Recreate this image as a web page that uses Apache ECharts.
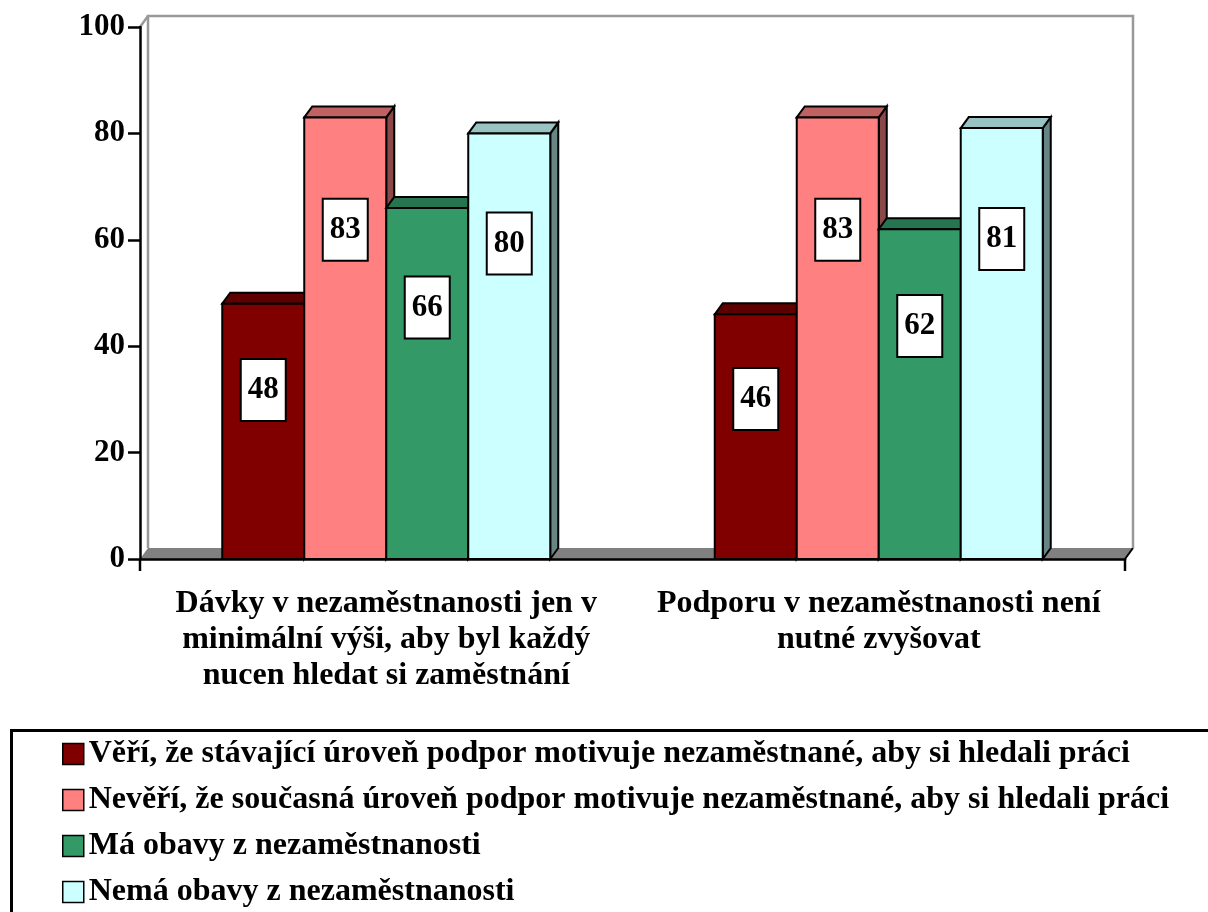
<!DOCTYPE html>
<html>
<head>
<meta charset="utf-8">
<script src="https://cdn.jsdelivr.net/npm/echarts@6/dist/echarts.min.js"></script>
<style>html,body{margin:0;padding:0;background:#fff;}#c{width:1208px;height:912px;}</style>
</head>
<body>
<div id="c"></div>
<script>
const categories = [
  "Dávky v nezaměstnanosti jen v\nminimální výši, aby byl každý\nnucen hledat si zaměstnání",
  "Podporu v nezaměstnanosti není\nnutné zvyšovat"
];
const seriesNames = [
  "Věří, že stávající úroveň podpor motivuje nezaměstnané, aby si hledali práci",
  "Nevěří, že současná úroveň podpor motivuje nezaměstnané, aby si hledali práci",
  "Má obavy z nezaměstnanosti",
  "Nemá obavy z nezaměstnanosti"
];
const veri = [48, 46];
const neveri = [83, 83];
const maObavy = [66, 62];
const nemaObavy = [80, 81];
const yTicks = [0, 20, 40, 60, 80, 100];

const seriesValues = [veri, neveri, maObavy, nemaObavy];
const frontColors = ['#800000', '#FF8080', '#339966', '#CCFFFF'];
const topColors = ['#5E0000', '#C06262', '#277550', '#99C2C2'];
const sideColors = ['#400000', '#8A4848', '#1C5238', '#688585'];

const FONT = '"Liberation Serif", "Times New Roman", serif';
const DX = 8, DY = 11;
const BAR_FRAC = 82 / 492.5;

function barRender(s) {
  return function (params, api) {
    const ci = api.value(0), v = api.value(1);
    const base = api.coord([ci, 0]);
    const top = api.coord([ci, v]);
    const band = api.size([1, 0])[0];
    const bw = band * BAR_FRAC;
    const xL = base[0] - 2 * bw + s * bw, xR = xL + bw;
    const yT = top[1], yB = base[1];
    const lab = api.coord([ci, v * 0.86 - 9.5]);
    const ls = { stroke: '#000', lineWidth: 2, lineJoin: 'miter' };
    return {
      type: 'group',
      children: [
        { type: 'polygon', shape: { points: [[xR, yT], [xR + DX, yT - DY], [xR + DX, yB - DY], [xR, yB]] },
          style: Object.assign({ fill: sideColors[s] }, ls) },
        { type: 'polygon', shape: { points: [[xL, yT], [xL + DX, yT - DY], [xR + DX, yT - DY], [xR, yT]] },
          style: Object.assign({ fill: topColors[s] }, ls) },
        { type: 'rect', shape: { x: xL, y: yT, width: bw, height: yB - yT },
          style: Object.assign({ fill: frontColors[s] }, ls) },
        { type: 'text', x: (xL + xR) / 2, y: lab[1], z2: 10,
          style: { text: String(v), fill: '#000', font: 'bold 31px ' + FONT,
            align: 'center', verticalAlign: 'middle',
            backgroundColor: '#fff', borderColor: '#000', borderWidth: 2,
            padding: [15, 6, 14, 6] } }
      ]
    };
  };
}

function wallRender(params, api) {
  const cs = params.coordSys;
  const x0 = cs.x, x1 = cs.x + cs.width, y0 = cs.y, y1 = cs.y + cs.height;
  const g = { stroke: '#999', lineWidth: 2.5, fill: null };
  return {
    type: 'group',
    children: [
      { type: 'polygon', shape: { points: [[x0, y1], [x0 + DX, y1 - DY], [x1 + DX, y1 - DY], [x1, y1]] },
        style: { fill: '#808080', stroke: null } },
      { type: 'line', shape: { x1: x1, y1: y1, x2: x1 + DX, y2: y1 - DY }, style: { stroke: '#000', lineWidth: 2 } },
      { type: 'polyline', shape: { points: [[x0 + DX, y1 - DY], [x0 + DX, y0 - DY], [x1 + DX, y0 - DY], [x1 + DX, y1 - DY]] }, style: g },
      { type: 'line', shape: { x1: x0, y1: y0, x2: x0 + DX, y2: y0 - DY }, style: g },
      { type: 'line', shape: { x1: x0, y1: y1, x2: x0, y2: y1 + 12 }, style: { stroke: '#000', lineWidth: 2.5 } },
      { type: 'line', shape: { x1: x1, y1: y1, x2: x1, y2: y1 + 12 }, style: { stroke: '#000', lineWidth: 2.5 } }
    ]
  };
}

const series = [{
  type: 'custom', name: '_wall', z: 1, silent: true,
  renderItem: wallRender, data: [[0, 0]]
}];
seriesNames.forEach(function (name, s) {
  series.push({
    type: 'custom', name: name, z: 2 + s,
    itemStyle: { color: frontColors[s], borderColor: '#000', borderWidth: 1.5 },
    renderItem: barRender(s),
    data: seriesValues[s].map(function (v, i) { return [i, v]; })
  });
});

const chart = echarts.init(document.getElementById('c'), null, { renderer: 'canvas' });
chart.setOption({
  animation: false,
  backgroundColor: '#fff',
  grid: { left: 140, right: 83, top: 27, bottom: 353, containLabel: false },
  xAxis: {
    type: 'category', data: categories, boundaryGap: true, z: 10,
    axisLine: { show: true, lineStyle: { color: '#000', width: 2.5 } },
    axisTick: { show: false },
    axisLabel: { interval: 0, color: '#000', fontFamily: FONT, fontWeight: 'bold', fontSize: 32, lineHeight: 36, margin: 27, align: 'center' },
    splitLine: { show: false }
  },
  yAxis: {
    type: 'value', min: yTicks[0], max: yTicks[yTicks.length - 1], interval: 20, z: 10,
    axisLine: { show: true, lineStyle: { color: '#000', width: 2.5 } },
    axisTick: { show: true, length: 12, lineStyle: { color: '#000', width: 2.5 } },
    axisLabel: { color: '#000', fontFamily: FONT, fontWeight: 'bold', fontSize: 31, margin: 15 },
    splitLine: { show: false }
  },
  legend: {
    orient: 'vertical', left: 62, top: 738, height: 400, padding: 0,
    itemWidth: 21, itemHeight: 21, itemGap: 14,
    icon: 'rect', selectedMode: false,
    textStyle: { color: '#000', fontFamily: FONT, fontWeight: 'bold', fontSize: 32, lineHeight: 32 },
    data: seriesNames.map(function (n, s) {
      return { name: n, itemStyle: { color: frontColors[s], borderColor: '#000', borderWidth: 1.5 } };
    })
  },
  graphic: [{
    type: 'rect', left: 9, top: 728, shape: { width: 1260, height: 260 },
    style: { fill: null, stroke: '#000', lineWidth: 3 }, silent: true
  }],
  series: series
});
</script>
</body>
</html>
